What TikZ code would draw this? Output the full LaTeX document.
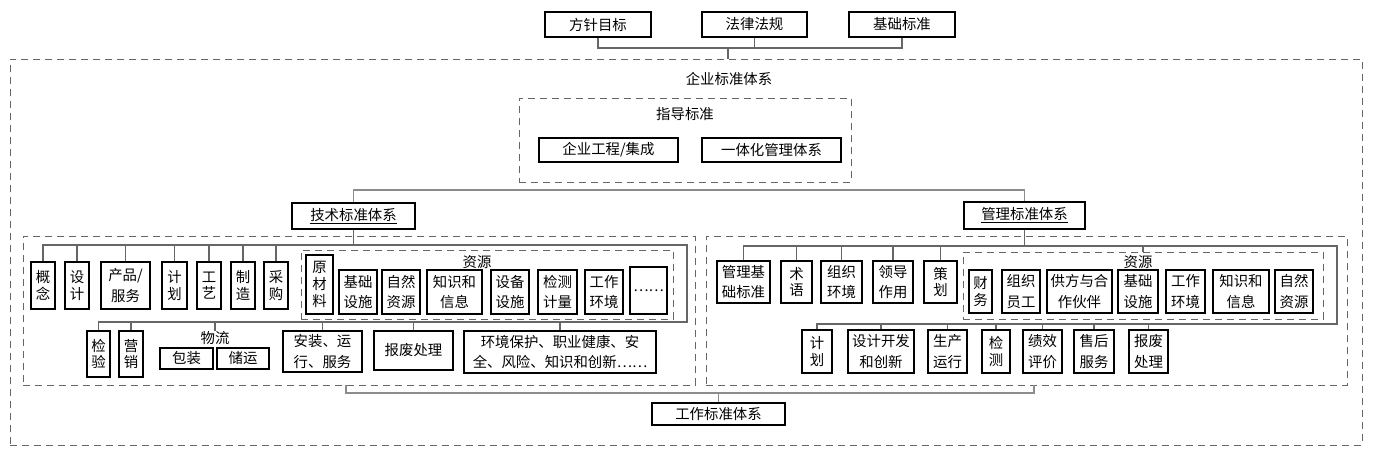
\documentclass[tikz,border=0pt]{standalone}
\usepackage{fontspec}
\setmainfont{Noto Sans CJK SC}
\begin{document}
\begin{tikzpicture}[
x=0.75pt,y=-0.75pt,
sz/.style 2 args={minimum width=#1*0.75pt,minimum height=#2*0.75pt},
box/.style={draw,line width=1.1pt,inner sep=0pt,align=center,font=\fontsize{10.8}{15.5}\selectfont},
col/.style={box,font=\fontsize{10.8}{12.5}\selectfont},
dashframe/.style={draw=black!60,dash pattern=on 5pt off 4pt,line width=0.7pt,inner sep=0pt},
heading/.style={inner sep=0pt,font=\fontsize{10.8}{13}\selectfont},
link/.style={draw=black!60,line width=0.8pt},
mainlink/.style={draw=black!45,line width=1.2pt},
]
\useasboundingbox (0,0) rectangle (1373,453);
\node[dashframe,sz={1352}{386}] (qybz) at (686,252) {};
\node[heading] (qylabel) at (729,79) {企业标准体系};
\node[dashframe,sz={332}{84}] (zdbz) at (685,140) {};
\node[heading] (zdlabel) at (685,114) {指导标准};
\node[dashframe,sz={672}{149}] (jsg) at (359,310.5) {};
\node[dashframe,sz={641}{149}] (glg) at (1026.5,310.5) {};
\node[dashframe,sz={372}{69}] (jzy) at (487,284.5) {};
\node[heading] (jzylabel) at (477,262) {资源};
\node[dashframe,sz={360}{67}] (gzy) at (1143,285.5) {};
\node[heading] (gzylabel) at (1138,262) {资源};

\node[box,sz={106}{25}] (fzmb) at (598,24.5) {方针目标};
\node[box,sz={105}{25}] (flfg) at (754.5,24.5) {法律法规};
\node[box,sz={106}{25}] (jcbz) at (902,24.5) {基础标准};
\node[box,sz={139}{24}] (qygc) at (608.5,150) {企业工程/集成};
\node[box,sz={139}{24}] (ythgl) at (771.5,150) {一体化管理体系};
\node[box,sz={123}{26}] (jsbz) at (353.5,216) {\underline{技术标准体系}};
\node[box,sz={121}{27}] (glbz) at (1024.5,215.5) {\underline{管理标准体系}};
\node[box,sz={133}{22}] (gzbz) at (718.5,414) {工作标准体系};

\node[col,sz={24}{47}] (gn) at (43,285.5) {概\\念};
\node[col,sz={24}{47}] (sj) at (77,285.5) {设\\计};
\node[box,sz={49}{47}] (cp) at (125.5,285.5) {产品/\\服务};
\node[col,sz={25}{47}] (jh) at (174.5,285.5) {计\\划};
\node[col,sz={24}{47}] (gy) at (209,285.5) {工\\艺};
\node[col,sz={24}{47}] (zz) at (243,285.5) {制\\造};
\node[col,sz={24}{47}] (cg) at (276,285.5) {采\\购};
\node[col,sz={27}{59}] (jycl) at (319.5,284.5) {原\\材\\料};
\node[box,sz={38}{44}] (jjc) at (358,292) {基础\\设施};
\node[box,sz={38}{44}] (jzr) at (401,292) {自然\\资源};
\node[box,sz={55}{44}] (jzs) at (454.5,292) {知识和\\信息};
\node[box,sz={38}{44}] (jsb) at (510,292) {设备\\设施};
\node[box,sz={39}{44}] (jjl) at (557.5,292) {检测\\计量};
\node[box,sz={38}{44}] (jgz) at (604,292) {工作\\环境};
\node[box,sz={37}{47}] (jdots) at (648.5,290.5) {……};

\node[col,sz={23}{46}] (jy) at (98.5,354) {检\\验};
\node[col,sz={24}{46}] (yx) at (131,354) {营\\销};
\node[heading] (wl) at (215,338) {物流};
\node[box,sz={53}{21}] (bz) at (186.5,358.5) {包装};
\node[box,sz={52}{21}] (cy) at (243,358.5) {储运};
\node[box,sz={79}{41}] (az) at (322.5,351.5) {安装、运\\行、服务};
\node[box,sz={79}{39}] (bf) at (413.5,350.5) {报废处理};
\node[box,sz={192}{42}] (hj) at (560,352) {环境保护、职业健康、安\\全、风险、知识和创新……};

\node[box,sz={53}{42}] (gljc) at (743.5,282) {管理基\\础标准};
\node[col,sz={31}{42}] (sy) at (796.5,282) {术\\语};
\node[box,sz={41}{42}] (zzhj) at (841.5,282) {组织\\环境};
\node[box,sz={40}{42}] (ldzy) at (893,282) {领导\\作用};
\node[col,sz={33}{42}] (ch) at (940.5,282) {策\\划};
\node[col,sz={23}{43}] (gcw) at (980.5,291.5) {财\\务};
\node[box,sz={38}{43}] (gyg) at (1021,291.5) {组织\\员工};
\node[box,sz={65}{43}] (ghb) at (1079.5,291.5) {供方与合\\作伙伴};
\node[box,sz={40}{43}] (gjs) at (1138,291.5) {基础\\设施};
\node[box,sz={39}{43}] (ggz) at (1185.5,291.5) {工作\\环境};
\node[box,sz={56}{43}] (gzs) at (1241,291.5) {知识和\\信息};
\node[box,sz={38}{43}] (gzr) at (1294,291.5) {自然\\资源};

\node[col,sz={30}{43}] (gjh) at (817,351.5) {计\\划};
\node[box,sz={66}{43}] (gsj) at (881,351.5) {设计开发\\和创新};
\node[box,sz={39}{43}] (gsc) at (947.5,351.5) {生产\\运行};
\node[col,sz={28}{43}] (gjc) at (996,351.5) {检\\测};
\node[box,sz={39}{43}] (gjx) at (1042.5,351.5) {绩效\\评价};
\node[box,sz={40}{43}] (gsh) at (1094,351.5) {售后\\服务};
\node[box,sz={39}{43}] (gbf) at (1148.5,351.5) {报废\\处理};

\coordinate (top) at (728,48);
\coordinate (jtr) at (687,245);
\coordinate (jbr) at (687,322);
\coordinate (gtr) at (1337,246);
\coordinate (gbr) at (1337,324);
\coordinate (jout) at (346,385);
\coordinate (gout) at (1034,385);

\draw[link] (fzmb.south) |- (top) -| (jcbz.south);
\draw[link] (flfg.south) -- (flfg.south |- top);
\draw[link] (top) -- (top |- qybz.north);
\draw[mainlink] (jsbz.north) -- ++(0,-12) -| (glbz.north);

\draw[link] (gn.north) |- (jtr) -- (jbr) -| (jy.north);
\draw[link] (jsbz.south) -- (jsbz.south |- jtr);
\foreach \n in {sj,cp,jh,gy,zz,cg}
  \draw[link] (\n.north) -- (\n.north |- jtr);
\foreach \n in {yx,wl,az,bf,hj}
  \draw[link] (\n.north) -- (\n.north |- jbr);

\draw[link] (gljc.north) |- (gtr) -- (gbr) -| (gjh.north);
\draw[link] (glbz.south) -- (glbz.south |- gtr);
\foreach \n in {sy,zzhj,ldzy,ch,gzy}
  \draw[link] (\n.north) -- (\n.north |- gtr);
\foreach \n in {gsj,gsc,gjc,gjx,gsh,gbf}
  \draw[link] (\n.north) -- (\n.north |- gbr);

\draw[mainlink] (jout) -- ++(0,8) -| (gout);
\draw[mainlink] (gzbz.north) -- ++(0,-10);
\end{tikzpicture}
\end{document}
